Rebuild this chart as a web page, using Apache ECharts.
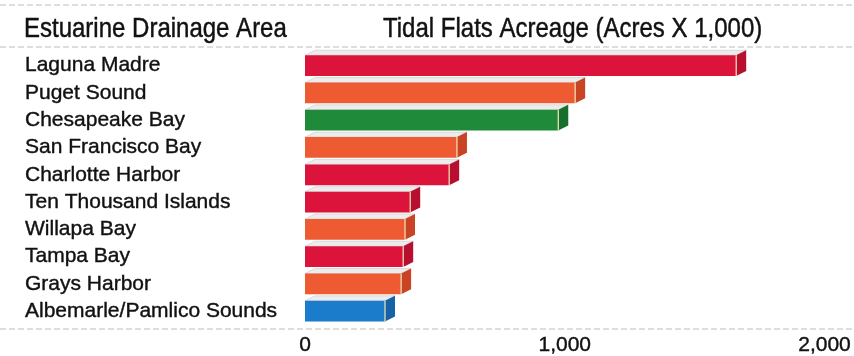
<!DOCTYPE html>
<html>
<head>
<meta charset="utf-8">
<style>
  html, body { margin: 0; padding: 0; background: #fff; }
  #chart { width: 854px; height: 356px; }
</style>
<script src="https://cdn.jsdelivr.net/npm/echarts@6/dist/echarts.min.js"></script>
</head>
<body>
<div id="chart"></div>
<script>
// Estuarine drainage areas, largest tidal flats first
const areas = [
  'Laguna Madre', 'Puget Sound', 'Chesapeake Bay', 'San Francisco Bay',
  'Charlotte Harbor', 'Ten Thousand Islands', 'Willapa Bay', 'Tampa Bay',
  'Grays Harbor', 'Albemarle/Pamlico Sounds'
];
// Tidal flats acreage, thousands of acres
const acreage = [1660, 1040, 975, 585, 555, 405, 385, 378, 370, 308];
// Fill for each bar
const barColors = [
  '#dc143c', '#ee5a32', '#1f8a3a', '#ee5a32', '#dc143c',
  '#dc143c', '#ee5a32', '#dc143c', '#ee5a32', '#1c7ccc'
];
const sideColors = [
  '#b80f30', '#c94424', '#16702c', '#c94424', '#b80f30',
  '#b80f30', '#c94424', '#b80f30', '#c94424', '#1562a6'
];
const xTicks = [0, 1000, 2000];

const FONT = 'Liberation Sans, Arial, Helvetica, sans-serif';
const INK = '#111';
const chart = echarts.init(document.getElementById('chart'));

// Extruded bar: front face, lighter top face and shaded right side
function renderBar(params, api) {
  const idx = api.value(0);
  const val = api.value(1);
  const start = api.coord([0, idx]);
  const end = api.coord([val, idx]);
  const h = api.size([0, 1])[1] * 0.76;
  const x0 = start[0], x1 = end[0];
  const top = end[1] - h / 2, bot = end[1] + h / 2;
  const dx = 10, dy = 5;
  return {
    type: 'group',
    children: [
      {
        type: 'polygon',
        shape: { points: [[x0, top], [x0 + dx, top - dy], [x1 + dx, top - dy], [x1, top]] },
        style: { fill: '#ececec', stroke: '#c8c8c8', lineWidth: 0.6 }
      },
      {
        type: 'rect',
        shape: { x: x0, y: top, width: x1 - x0, height: h },
        style: { fill: barColors[idx] }
      },
      {
        type: 'polygon',
        shape: { points: [[x1, top], [x1 + dx, top - dy], [x1 + dx, bot - dy], [x1, bot]] },
        style: { fill: sideColors[idx] }
      },
      {
        type: 'line',
        shape: { x1: x1, y1: top, x2: x1, y2: bot },
        style: { stroke: '#f3e6b8', lineWidth: 1.2 }
      }
    ]
  };
}

const dashLine = (y) => ({
  type: 'line',
  shape: { x1: 0, y1: y, x2: 854, y2: y },
  style: { stroke: '#bdbdbd', lineWidth: 1, lineDash: [6, 3] },
  silent: true
});

// Column headings, drawn tall and narrow
const heading = (x, text) => ({
  type: 'text',
  x: x,
  y: 15,
  scaleY: 1.16,
  style: {
    text: text,
    x: 0,
    y: 0,
    font: '24px ' + FONT,
    fill: INK,
    stroke: INK,
    lineWidth: 0.4,
    verticalAlign: 'top'
  }
});

chart.setOption({
  animation: false,
  backgroundColor: '#ffffff',
  grid: { left: 305, right: 29, top: 52, bottom: 27 },
  xAxis: {
    type: 'value',
    min: 0,
    max: 2000,
    interval: 1000,
    axisLine: { show: false },
    axisTick: { show: false },
    splitLine: { show: false },
    axisLabel: {
      margin: 10,
      fontFamily: FONT,
      fontSize: 21,
      color: INK,
      textBorderColor: INK,
      textBorderWidth: 0.4,
      customValues: xTicks,
      formatter: (v) => v.toLocaleString('en-US')
    }
  },
  yAxis: {
    type: 'category',
    data: areas,
    inverse: true,
    axisLine: { show: false },
    axisTick: { show: false },
    splitLine: { show: false },
    axisLabel: {
      interval: 0,
      align: 'left',
      margin: 280,
      fontFamily: FONT,
      fontSize: 21,
      color: INK,
      textBorderColor: INK,
      textBorderWidth: 0.4
    }
  },
  graphic: [
    dashLine(5),
    dashLine(47),
    dashLine(329),
    heading(24, 'Estuarine Drainage Area'),
    heading(383, 'Tidal Flats Acreage (Acres X 1,000)')
  ],
  series: [{
    type: 'custom',
    renderItem: renderBar,
    encode: { x: 1, y: 0 },
    data: acreage.map((v, i) => [i, v])
  }]
});
</script>
</body>
</html>
